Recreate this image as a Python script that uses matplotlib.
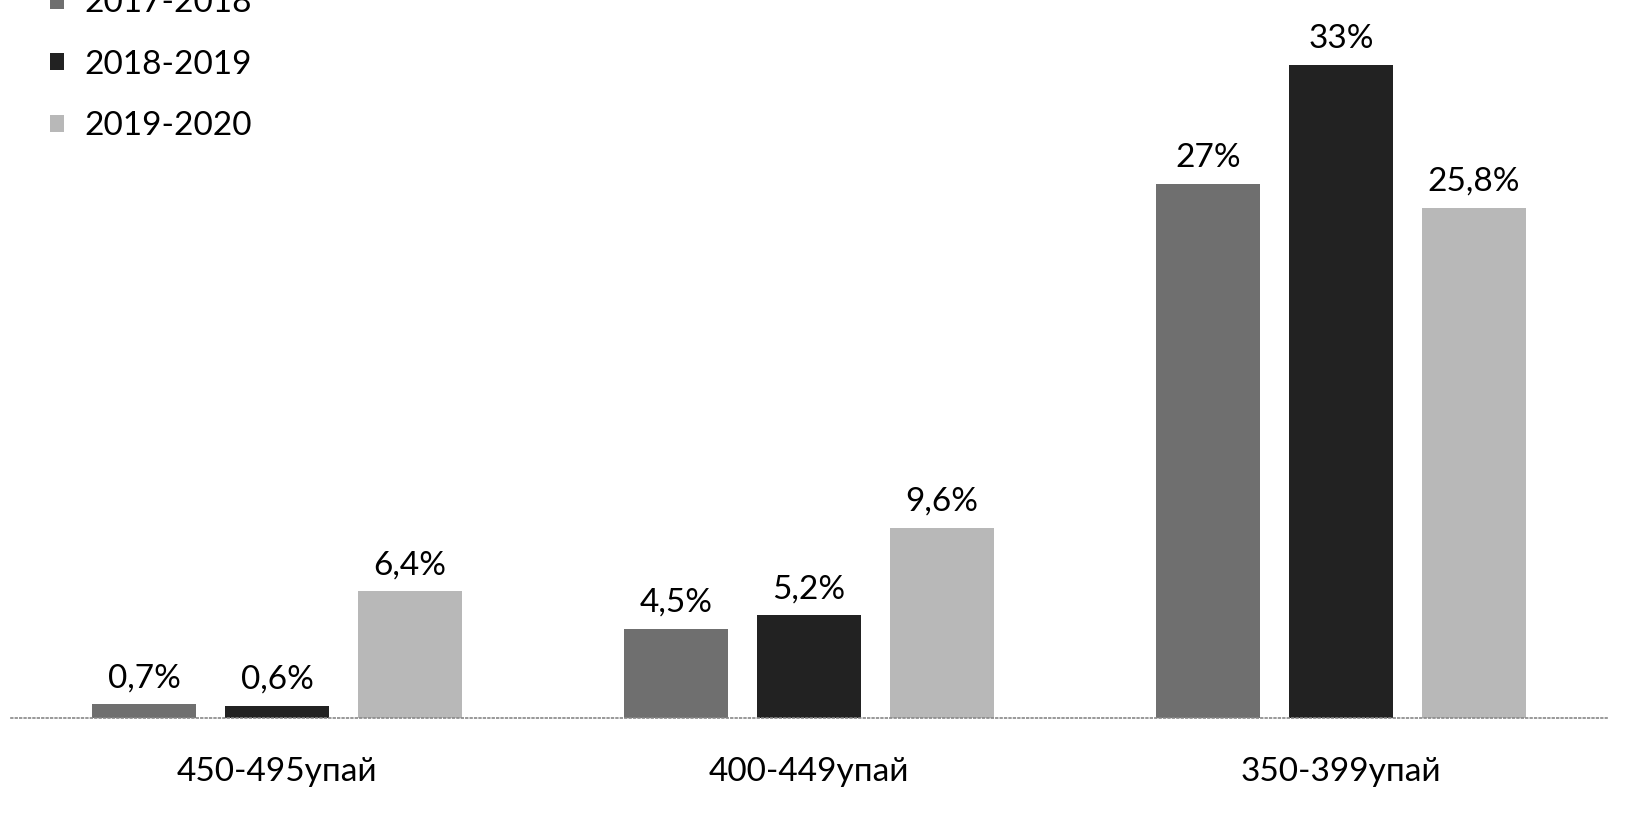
import matplotlib.pyplot as plt
import numpy as np

plt.rcParams['font.family'] = ['Lato', 'Open Sans', 'DejaVu Sans']

# Data
categories = ["450-495упай", "400-449упай", "350-399упай"]
series_names = ["2017-2018", "2018-2019", "2019-2020"]
values_2017 = [0.7, 4.5, 27]
values_2018 = [0.6, 5.2, 33]
values_2019 = [6.4, 9.6, 25.8]
labels_2017 = ["0,7%", "4,5%", "27%"]
labels_2018 = ["0,6%", "5,2%", "33%"]
labels_2019 = ["6,4%", "9,6%", "25,8%"]

series_values = [values_2017, values_2018, values_2019]
series_labels = [labels_2017, labels_2018, labels_2019]
colors = ["#6f6f6f", "#222222", "#b8b8b8"]

fig = plt.figure(figsize=(16.35, 8.23), dpi=100)
ax = fig.add_axes([11 / 1635, 105 / 823, 1596 / 1635, 718 / 823])

x = np.arange(len(categories))
width = 0.197
step = 0.25

bars = []
for i, (vals, labs, col, name) in enumerate(zip(series_values, series_labels, colors, series_names)):
    b = ax.bar(x + (i - 1) * step, vals, width, color=col, label=name)
    ax.bar_label(b, labels=labs, padding=8, fontsize=24)
    bars.append(b)

ax.set_xlim(-0.5, 2.5)
ax.set_ylim(0, 36.3)

ax.set_xticks(x)
ax.set_xticklabels(categories, fontsize=24)
ax.tick_params(axis='x', length=0, pad=28)
ax.set_yticks([])

for side in ['top', 'right', 'left']:
    ax.spines[side].set_visible(False)
ax.spines['bottom'].set_color('#888888')
ax.spines['bottom'].set_linestyle(':')
ax.spines['bottom'].set_linewidth(1.2)

# legend sits at the top left, first entry partly cut like the scan
fig.legend(handles=bars, labels=series_names, loc='upper left',
           bbox_to_anchor=(50 / 1635, 1 + 12 / 823), frameon=False,
           fontsize=24, handlelength=0.42, handleheight=0.42,
           handletextpad=0.6, labelspacing=0.95, borderpad=0, borderaxespad=0)

plt.savefig("out.png", dpi=100)
